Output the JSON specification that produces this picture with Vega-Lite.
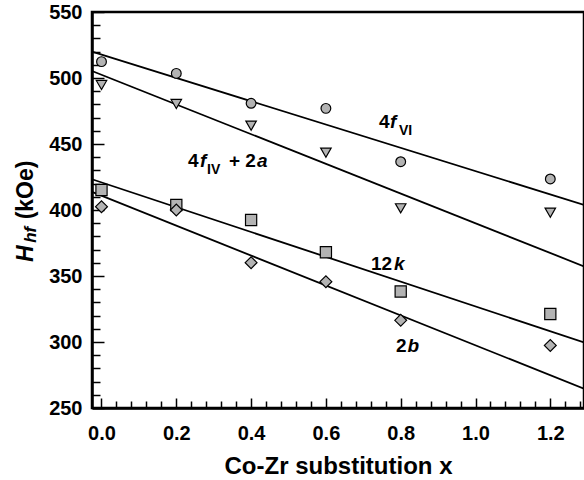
{
  "$schema": "https://vega.github.io/schema/vega-lite/v6.json",
  "width": 492,
  "height": 396,
  "autosize": "none",
  "padding": {"left": 92, "top": 12, "right": 0, "bottom": 72},
  "background": "white",
  "config": {
    "font": "Liberation Sans",
    "view": {"stroke": "black", "strokeWidth": 2.5},
    "axis": {"domainColor": "black", "tickColor": "black", "labelColor": "black", "titleColor": "black", "grid": false, "labelFont": "Liberation Sans", "titleFont": "Liberation Sans"}
  },
  "datasets": {
    "fits": [
      {"series": "4fVI", "x": -0.0254, "y": 519.9},
      {"series": "4fVI", "x": 1.2901, "y": 403.9},
      {"series": "4fIV+2a", "x": -0.0254, "y": 505.3},
      {"series": "4fIV+2a", "x": 1.2901, "y": 357.3},
      {"series": "12k", "x": -0.0254, "y": 423.3},
      {"series": "12k", "x": 1.2901, "y": 299.7},
      {"series": "2b", "x": -0.0254, "y": 413.7},
      {"series": "2b", "x": 1.2901, "y": 264.6}
    ],
    "points": [
      {"series": "4fVI", "x": 0.0, "y": 512.4},
      {"series": "4fVI", "x": 0.2, "y": 503.5},
      {"series": "4fVI", "x": 0.4, "y": 480.8},
      {"series": "4fVI", "x": 0.6, "y": 477.0},
      {"series": "4fVI", "x": 0.8, "y": 436.6},
      {"series": "4fVI", "x": 1.2, "y": 423.5},
      {"series": "4fIV+2a", "x": 0.0, "y": 494.7},
      {"series": "4fIV+2a", "x": 0.2, "y": 480.3},
      {"series": "4fIV+2a", "x": 0.4, "y": 463.9},
      {"series": "4fIV+2a", "x": 0.6, "y": 443.4},
      {"series": "4fIV+2a", "x": 0.8, "y": 401.3},
      {"series": "4fIV+2a", "x": 1.2, "y": 398.0},
      {"series": "12k", "x": 0.0, "y": 415.2},
      {"series": "12k", "x": 0.2, "y": 403.8},
      {"series": "12k", "x": 0.4, "y": 392.4},
      {"series": "12k", "x": 0.6, "y": 368.0},
      {"series": "12k", "x": 0.8, "y": 338.3},
      {"series": "12k", "x": 1.2, "y": 321.2},
      {"series": "2b", "x": 0.0, "y": 402.5},
      {"series": "2b", "x": 0.2, "y": 400.0},
      {"series": "2b", "x": 0.4, "y": 360.1},
      {"series": "2b", "x": 0.6, "y": 345.7},
      {"series": "2b", "x": 0.8, "y": 316.4},
      {"series": "2b", "x": 1.2, "y": 297.4}
    ],
    "labUpright": [
      {"t": "4", "x": 0.742, "y": 462.0},
      {"t": "4", "x": 0.2313, "y": 432.4},
      {"t": "+ 2", "x": 0.3409, "y": 432.4},
      {"t": "12", "x": 0.7206, "y": 354.7},
      {"t": "2", "x": 0.7874, "y": 292.8}
    ],
    "labItalic": [
      {"t": "f", "x": 0.7714, "y": 462.0},
      {"t": "f", "x": 0.2634, "y": 432.4},
      {"t": "a", "x": 0.4158, "y": 432.4},
      {"t": "k", "x": 0.7821, "y": 354.7},
      {"t": "b", "x": 0.8182, "y": 292.8}
    ],
    "labSub": [
      {"t": "VI", "x": 0.7955, "y": 456.9},
      {"t": "IV", "x": 0.2821, "y": 427.4}
    ],
    "yTitleMain": [
      {"t": "H", "x": -0.1832, "y": 360.7}
    ],
    "yTitleSub": [
      {"t": "hf", "x": -0.1738, "y": 375.1}
    ],
    "yTitleUnit": [
      {"t": "(kOe)", "x": -0.1832, "y": 392.9}
    ]
  },
  "layer": [
    {
      "data": {"name": "fits"},
      "mark": {"type": "line", "stroke": "black", "strokeWidth": 1.8},
      "encoding": {
        "x": {"field": "x", "type": "quantitative", "scale": {"domain": [-0.0254, 1.2901], "nice": false, "zero": false},
          "axis": {"orient": "bottom", "values": [0.04,0.08,0.12,0.16,0.24,0.28,0.32,0.36,0.44,0.48,0.52,0.56,0.64,0.68,0.72,0.76,0.84,0.88,0.92,0.96,1.04,1.08,1.12,1.16,1.24,1.28], "labels": false, "domain": false, "tickSize": -7, "tickWidth": 1.5, "title": null}},
        "y": {"field": "y", "type": "quantitative", "scale": {"domain": [250, 550], "nice": false, "zero": false},
          "axis": {"orient": "left", "values": [260,270,280,290,310,320,330,340,360,370,380,390,410,420,430,440,460,470,480,490,510,520,530,540], "labels": false, "domain": false, "tickSize": -8, "tickWidth": 1.5, "title": null}},
        "detail": {"field": "series", "type": "nominal"}
      }
    },
    {
      "data": {"name": "points"},
      "mark": {"type": "point", "filled": true, "fill": "#b3b3b3", "stroke": "black", "strokeWidth": 1.2, "opacity": 1},
      "encoding": {
        "x": {"field": "x", "type": "quantitative", "scale": {"domain": [-0.0254, 1.2901], "nice": false, "zero": false},
          "axis": {"orient": "bottom", "values": [0, 0.2, 0.4, 0.6, 0.8, 1.0, 1.2], "format": ".1f", "labelFontSize": 20, "labelFontWeight": "bold", "labelFlush": false, "labelOverlap": false, "tickSize": -10, "tickWidth": 1.5, "labelPadding": 25, "domainWidth": 2.5, "title": "Co-Zr substitution x", "titleFontSize": 24, "titleFontWeight": "bold", "titlePadding": 11}},
        "y": {"field": "y", "type": "quantitative", "scale": {"domain": [250, 550], "nice": false, "zero": false},
          "axis": {"orient": "left", "values": [250, 300, 350, 400, 450, 500, 550], "labelFontSize": 20, "labelFontWeight": "bold", "labelFlush": false, "labelOverlap": false, "tickSize": -12, "tickWidth": 1.5, "labelPadding": 22, "domainWidth": 2.5, "title": null}},
        "shape": {"field": "series", "type": "nominal", "scale": {"domain": ["4fVI", "4fIV+2a", "12k", "2b"], "range": ["circle", "triangle-down", "square", "diamond"]}, "legend": null},
        "size": {"field": "series", "type": "nominal", "scale": {"domain": ["4fVI", "4fIV+2a", "12k", "2b"], "range": [95, 140, 75, 155]}, "legend": null}
      }
    },
    {
      "data": {"name": "labUpright"},
      "mark": {"type": "text", "align": "left", "baseline": "alphabetic", "fontSize": 19, "fontWeight": "bold", "fill": "black"},
      "encoding": {
        "x": {"field": "x", "type": "quantitative", "scale": {"domain": [-0.0254, 1.2901], "nice": false, "zero": false}, "axis": null},
        "y": {"field": "y", "type": "quantitative", "scale": {"domain": [250, 550], "nice": false, "zero": false}, "axis": null},
        "text": {"field": "t", "type": "nominal"}
      }
    },
    {
      "data": {"name": "labItalic"},
      "mark": {"type": "text", "align": "left", "baseline": "alphabetic", "fontSize": 19, "fontWeight": "bold", "fontStyle": "italic", "fill": "black"},
      "encoding": {
        "x": {"field": "x", "type": "quantitative", "scale": {"domain": [-0.0254, 1.2901], "nice": false, "zero": false}, "axis": null},
        "y": {"field": "y", "type": "quantitative", "scale": {"domain": [250, 550], "nice": false, "zero": false}, "axis": null},
        "text": {"field": "t", "type": "nominal"}
      }
    },
    {
      "data": {"name": "labSub"},
      "mark": {"type": "text", "align": "left", "baseline": "alphabetic", "fontSize": 14, "fontWeight": "bold", "fill": "black"},
      "encoding": {
        "x": {"field": "x", "type": "quantitative", "scale": {"domain": [-0.0254, 1.2901], "nice": false, "zero": false}, "axis": null},
        "y": {"field": "y", "type": "quantitative", "scale": {"domain": [250, 550], "nice": false, "zero": false}, "axis": null},
        "text": {"field": "t", "type": "nominal"}
      }
    },
    {
      "data": {"name": "yTitleMain"},
      "mark": {"type": "text", "align": "left", "baseline": "alphabetic", "angle": 270, "fontSize": 23, "fontWeight": "bold", "fontStyle": "italic", "fill": "black"},
      "encoding": {
        "x": {"field": "x", "type": "quantitative", "scale": {"domain": [-0.0254, 1.2901], "nice": false, "zero": false}, "axis": null},
        "y": {"field": "y", "type": "quantitative", "scale": {"domain": [250, 550], "nice": false, "zero": false}, "axis": null},
        "text": {"field": "t", "type": "nominal"}
      }
    },
    {
      "data": {"name": "yTitleSub"},
      "mark": {"type": "text", "align": "left", "baseline": "alphabetic", "angle": 270, "fontSize": 17, "fontWeight": "bold", "fontStyle": "italic", "fill": "black"},
      "encoding": {
        "x": {"field": "x", "type": "quantitative", "scale": {"domain": [-0.0254, 1.2901], "nice": false, "zero": false}, "axis": null},
        "y": {"field": "y", "type": "quantitative", "scale": {"domain": [250, 550], "nice": false, "zero": false}, "axis": null},
        "text": {"field": "t", "type": "nominal"}
      }
    },
    {
      "data": {"name": "yTitleUnit"},
      "mark": {"type": "text", "align": "left", "baseline": "alphabetic", "angle": 270, "fontSize": 23, "fontWeight": "bold", "fill": "black"},
      "encoding": {
        "x": {"field": "x", "type": "quantitative", "scale": {"domain": [-0.0254, 1.2901], "nice": false, "zero": false}, "axis": null},
        "y": {"field": "y", "type": "quantitative", "scale": {"domain": [250, 550], "nice": false, "zero": false}, "axis": null},
        "text": {"field": "t", "type": "nominal"}
      }
    }
  ],
  "resolve": {"axis": {"x": "independent", "y": "independent"}}
}
